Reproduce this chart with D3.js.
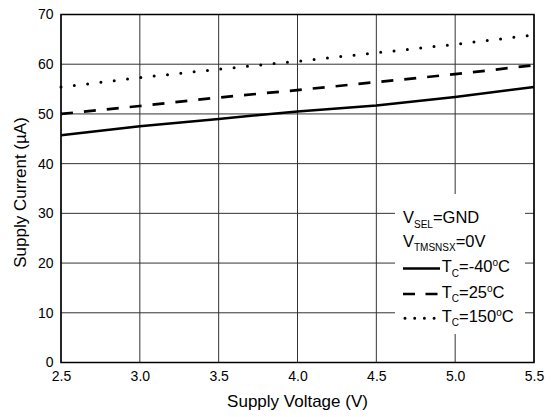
<!DOCTYPE html>
<html><head><meta charset="utf-8">
<script src="https://cdn.jsdelivr.net/npm/d3@7"></script>
<style>body{margin:0;background:#fff}svg{display:block}text{font-family:"Liberation Sans",Arial,sans-serif;fill:#000}</style>
</head><body><svg id="c" width="551" height="417"></svg>
<script>
const voltages = [2.5, 3.0, 3.5, 4.0, 4.5, 5.0, 5.5];
const currentM40 = [45.7, 47.5, 49.0, 50.5, 51.7, 53.4, 55.4];
const current25 = [50.0, 51.6, 53.3, 54.8, 56.4, 58.0, 59.8];
const current150 = [55.4, 57.3, 59.0, 60.6, 62.3, 64.0, 65.9];
const xTicks = [2.5, 3.0, 3.5, 4.0, 4.5, 5.0, 5.5];
const yTicks = [0, 10, 20, 30, 40, 50, 60, 70];

const svg = d3.select("#c");
const L = 61, R = 534, T = 14.5, B = 362.5;
const x = d3.scaleLinear().domain([2.5, 5.5]).range([L, R]);
const y = d3.scaleLinear().domain([0, 70]).range([B, T]);
const FONT = "Liberation Sans, Arial, sans-serif";

// grid
const g = svg.append("g");
g.selectAll("line.v").data(xTicks).join("line")
  .attr("x1", d => x(d)).attr("x2", d => x(d)).attr("y1", T).attr("y2", B)
  .attr("stroke", "#333").attr("stroke-width", 1);
g.selectAll("line.h").data(yTicks).join("line")
  .attr("y1", d => y(d)).attr("y2", d => y(d)).attr("x1", L).attr("x2", R)
  .attr("stroke", "#333").attr("stroke-width", 1);

// axes labels
const xAxis = d3.axisBottom(x).tickValues(xTicks).tickFormat(d3.format(".1f")).tickSize(0).tickPadding(8.5);
const ax = svg.append("g").attr("transform", `translate(0,${B})`).call(xAxis);
ax.select(".domain").remove();
ax.selectAll("text").attr("font-size", 14).attr("font-family", FONT).attr("fill", "#000");
const yAxis = d3.axisLeft(y).tickValues(yTicks).tickSize(0).tickPadding(7.5);
const ay = svg.append("g").attr("transform", `translate(${L},0)`).call(yAxis);
ay.select(".domain").remove();
ay.selectAll("text").attr("font-size", 14).attr("font-family", FONT).attr("fill", "#000");

// series
const line = d3.line().x((d, i) => x(voltages[i])).y(d => y(d));
const series = [
  {vals: currentM40, dash: null, cap: "butt", w: 2.5},
  {vals: current25, dash: "12,11", cap: "butt", w: 2.7},
  {vals: current150, dash: "0,13.4", cap: "round", w: 3}
];
series.forEach(s => {
  svg.append("path").datum(s.vals).attr("d", line)
    .attr("fill", "none").attr("stroke", "#000").attr("stroke-width", s.w)
    .attr("stroke-dasharray", s.dash).attr("stroke-linecap", s.cap);
});

// frame
svg.append("rect").attr("x", L).attr("y", T).attr("width", R - L).attr("height", B - T)
  .attr("fill", "none").attr("stroke", "#000").attr("stroke-width", 1.5);

// legend
const lg = svg.append("g");
lg.append("rect").attr("x", 395).attr("y", 194).attr("width", 130).attr("height", 140).attr("fill", "#fff");
function sub(t, main, s, rest) {
  t.append("tspan").text(main);
  t.append("tspan").attr("font-size", 10).attr("dy", 4.5).text(s);
  t.append("tspan").attr("dy", -4.5).text(rest);
}
const t1 = lg.append("text").attr("x", 403).attr("y", 223).attr("font-size", 16.5);
sub(t1, "V", "SEL", "=GND");
const t2 = lg.append("text").attr("x", 403).attr("y", 246.7).attr("font-size", 16.5);
sub(t2, "V", "TMSNSX", "=0V");
const legItems = [
  {lab: "-40", dash: null, cap: "butt", y: 268.5, w: 2.5},
  {lab: "25", dash: "12,10.5", cap: "butt", y: 294, w: 2.7},
  {lab: "150", dash: "0,9.7", cap: "round", y: 318.3, w: 3}
];
legItems.forEach(it => {
  lg.append("line").attr("x1", it.cap === "round" ? 405 : 403).attr("x2", 440).attr("y1", it.y).attr("y2", it.y)
    .attr("stroke", "#000").attr("stroke-width", it.w).attr("stroke-dasharray", it.dash).attr("stroke-linecap", it.cap);
  const t = lg.append("text").attr("x", 441.7).attr("y", it.y + 3.5).attr("font-size", 16.5);
  t.append("tspan").text("T");
  t.append("tspan").attr("font-size", 10).attr("dy", 4.5).text("C");
  t.append("tspan").attr("dy", -4.5).text("=" + it.lab);
  t.append("tspan").attr("font-size", 10).attr("dy", -6).text("o");
  t.append("tspan").attr("dy", 6).text("C");
});

// titles
svg.append("text").attr("x", (L + R) / 2).attr("y", 407).attr("text-anchor", "middle").attr("font-size", 17).text("Supply Voltage (V)");
svg.append("text").attr("transform", `translate(26,${(T + B) / 2 + 4}) rotate(-90)`).attr("text-anchor", "middle").attr("font-size", 17)
  .text("Supply Current (µA)");
</script></body></html>
